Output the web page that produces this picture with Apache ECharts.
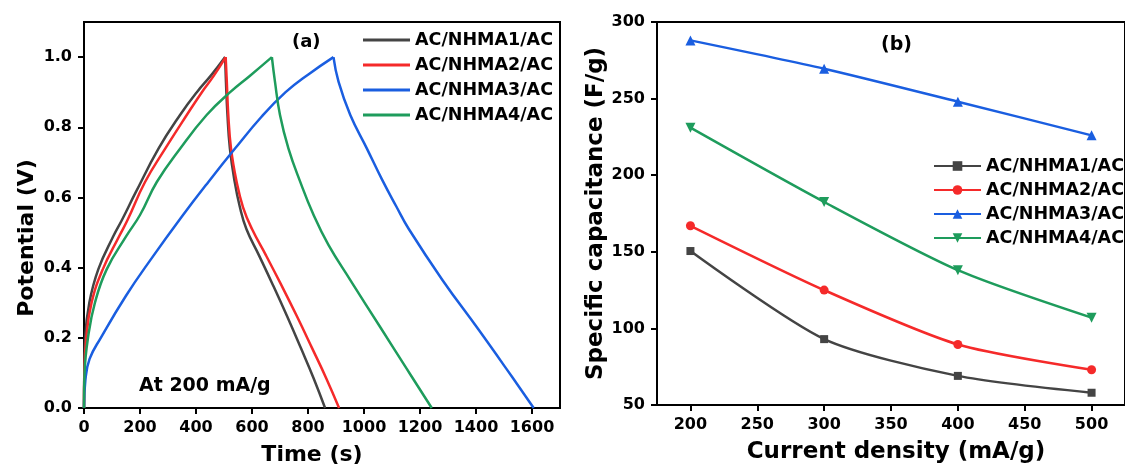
<!DOCTYPE html>
<html><head><meta charset="utf-8">
<script src="https://cdn.jsdelivr.net/npm/echarts@6/dist/echarts.min.js"></script>
<style>html,body{margin:0;padding:0;background:#fff}#c{width:1125px;height:472px}</style>
</head><body><div id="c"></div>
<script>
// ---------- shared ----------
const seriesNames = ['AC/NHMA1/AC', 'AC/NHMA2/AC', 'AC/NHMA3/AC', 'AC/NHMA4/AC'];
const seriesColors = ['#444444', '#f52a2a', '#1a5ee0', '#1e9c5c'];

// ---------- panel (a): galvanostatic charge / discharge, [time s, potential V] ----------
const nhma1Charge = [[0,0],[1,0.1],[4,0.2],[19,0.3],[51,0.395],[105,0.49],[135,0.535],[185,0.615],[266,0.739],[343,0.835],[403,0.9],[456,0.95],[504,1.0]];
const nhma1Discharge = [[504,1.0],[507,0.93],[512,0.84],[521,0.74],[538,0.645],[556,0.575],[580,0.51],[625,0.435],[675,0.35],[725,0.262],[775,0.17],[820,0.085],[861,0]];
const nhma2Charge = [[0,0],[1,0.09],[8,0.2],[27,0.3],[67,0.395],[126,0.49],[155,0.535],[218,0.644],[290,0.739],[367,0.835],[421,0.9],[462,0.945],[506,1.0]];
const nhma2Discharge = [[506,1.0],[510,0.93],[515,0.84],[525,0.74],[545,0.645],[568,0.572],[600,0.51],[650,0.435],[705,0.35],[760,0.262],[815,0.17],[865,0.085],[911,0]];
const nhma3Charge = [[0,0],[5,0.08],[20,0.14],[60,0.2],[150,0.32],[240,0.425],[349,0.545],[445,0.645],[540,0.74],[634,0.83],[720,0.9],[800,0.95],[891,1.0]];
const nhma3Discharge = [[891,1.0],[909,0.93],[951,0.835],[1010,0.74],[1065,0.65],[1115,0.575],[1160,0.51],[1280,0.365],[1409,0.2235],[1510,0.11],[1606,0]];
const nhma4Charge = [[0,0],[2,0.1],[15,0.204],[39,0.3],[81,0.395],[152,0.491],[200,0.55],[260,0.644],[343,0.739],[438,0.835],[522,0.9],[593,0.947],[671,1.0]];
const nhma4Discharge = [[671,1.0],[682,0.93],[700,0.835],[730,0.74],[772,0.645],[820,0.55],[873,0.465],[950,0.366],[1060,0.228],[1150,0.115],[1242,0]];
const timeTicks = [0, 200, 400, 600, 800, 1000, 1200, 1400, 1600];
const potentialTicks = [0, 0.2, 0.4, 0.6, 0.8, 1.0];

// ---------- panel (b): specific capacitance vs current density ----------
const currentDensity = [200, 300, 400, 500];
const capNHMA1 = [150.5, 93, 69, 58];
const capNHMA2 = [167, 125, 89.5, 73];
const capNHMA3 = [288, 269.5, 248, 226];
const capNHMA4 = [231, 182.5, 138, 107];
const currentTicks = [200, 250, 300, 350, 400, 450, 500];
const capacitanceTicks = [50, 100, 150, 200, 250, 300];

const FONT = 'DejaVu Sans';
const chargeSets = [[nhma1Charge, nhma1Discharge], [nhma2Charge, nhma2Discharge], [nhma3Charge, nhma3Discharge], [nhma4Charge, nhma4Discharge]];
const capSets = [capNHMA1, capNHMA2, capNHMA3, capNHMA4];
const symbols = ['rect', 'circle', 'triangle', 'triangle'];
const symbolRot = [0, 0, 0, 180];
const symbolSizes = [8, 9, 10, 10];

const axisCommon = {
  axisLine: {show: true, onZero: false, lineStyle: {color: '#000', width: 2}},
  axisTick: {show: true, inside: false, length: 6, lineStyle: {color: '#000', width: 2}},
  splitLine: {show: false},
  axisLabel: {color: '#000', fontFamily: FONT, fontWeight: 'bold', fontSize: 16, margin: 12},
  nameTextStyle: {color: '#000', fontFamily: FONT, fontWeight: 'bold', fontSize: 22}
};
function ax(extra) {
  const o = JSON.parse(JSON.stringify(axisCommon));
  for (const k in extra) {
    if (typeof extra[k] === 'object' && !Array.isArray(extra[k]) && o[k]) Object.assign(o[k], extra[k]);
    else o[k] = extra[k];
  }
  return o;
}

const series = [];
// panel (b) series first (legend icons come from these)
capSets.forEach((vals, i) => {
  series.push({
    name: seriesNames[i], type: 'line', xAxisIndex: 1, yAxisIndex: 1,
    data: currentDensity.map((x, j) => [x, vals[j]]),
    smooth: 0.25, symbol: symbols[i], symbolRotate: symbolRot[i], symbolSize: symbolSizes[i],
    showSymbol: true,
    lineStyle: {color: seriesColors[i], width: 2.5},
    itemStyle: {color: seriesColors[i]},
    z: 3
  });
});
// panel (a) series: charge + discharge branches
chargeSets.forEach((pair, i) => {
  pair.forEach(branch => {
    series.push({
      name: seriesNames[i], type: 'line', xAxisIndex: 0, yAxisIndex: 0,
      data: branch, smooth: 0.45,
      symbol: 'none', showSymbol: false,
      lineStyle: {color: seriesColors[i], width: 2.5},
      itemStyle: {color: seriesColors[i]},
      z: 3
    });
  });
});

const legendText = {color: '#000', fontFamily: FONT, fontWeight: 'bold', fontSize: 17.5, lineHeight: 17};
const option = {
  backgroundColor: '#fff',
  animation: false,
  grid: [
    {left: 84, top: 22, width: 476, height: 386, show: true, borderColor: '#000', borderWidth: 2, backgroundColor: 'transparent'},
    {left: 657, top: 22, width: 475, height: 383, show: true, borderColor: '#000', borderWidth: 2, backgroundColor: 'transparent'}
  ],
  xAxis: [
    ax({type: 'value', gridIndex: 0, min: 0, max: 1700, name: 'Time (s)', nameLocation: 'middle', nameGap: 36,
        nameTextStyle: {padding: [0, 20, 0, 0]},
        axisTick: {customValues: timeTicks}, axisLabel: {customValues: timeTicks, formatter: v => String(v)}}),
    ax({type: 'value', gridIndex: 1, min: 175, max: 525, name: 'Current density (mA/g)', nameLocation: 'middle', nameGap: 36,
        nameTextStyle: {fontSize: 23, padding: [0, 0, 0, 10]},
        axisTick: {customValues: currentTicks}, axisLabel: {customValues: currentTicks, formatter: v => String(v)}})
  ],
  yAxis: [
    ax({type: 'value', gridIndex: 0, min: 0, max: 1.1, name: 'Potential (V)', nameLocation: 'middle', nameGap: 46, nameRotate: 90,
        nameTextStyle: {padding: [0, 46, 0, 0]},
        axisTick: {customValues: potentialTicks},
        axisLabel: {customValues: potentialTicks, formatter: v => v.toFixed(1)}}),
    ax({type: 'value', gridIndex: 1, min: 50, max: 300, interval: 50, name: 'Specific capacitance (F/g)', nameLocation: 'middle', nameGap: 48, nameRotate: 90,
        nameTextStyle: {fontSize: 23},
        axisTick: {customValues: capacitanceTicks}, axisLabel: {customValues: capacitanceTicks, formatter: v => String(v)}})
  ],
  legend: [
    {
      data: seriesNames, orient: 'vertical', left: 363, top: 31, padding: 0,
      icon: 'rect', itemWidth: 47, itemHeight: 3, itemGap: 7,
      textStyle: legendText,
      selectedMode: false
    },
    {
      data: seriesNames, orient: 'vertical', left: 933, top: 157, padding: 0,
      itemWidth: 47, itemHeight: 12, itemGap: 6,
      textStyle: legendText,
      selectedMode: false
    }
  ],
  graphic: [
    {type: 'text', left: 292, top: 33, style: {text: '(a)', font: 'bold 18px "DejaVu Sans"', fill: '#000'}},
    {type: 'text', left: 881, top: 36, style: {text: '(b)', font: 'bold 19px "DejaVu Sans"', fill: '#000'}},
    {type: 'text', left: 139, top: 377, style: {text: 'At 200 mA/g', font: 'bold 19px "DejaVu Sans"', fill: '#000'}}
  ],
  series: series
};
const chart = echarts.init(document.getElementById('c'), null, {renderer: 'canvas'});
chart.setOption(option);
</script>
</body></html>
